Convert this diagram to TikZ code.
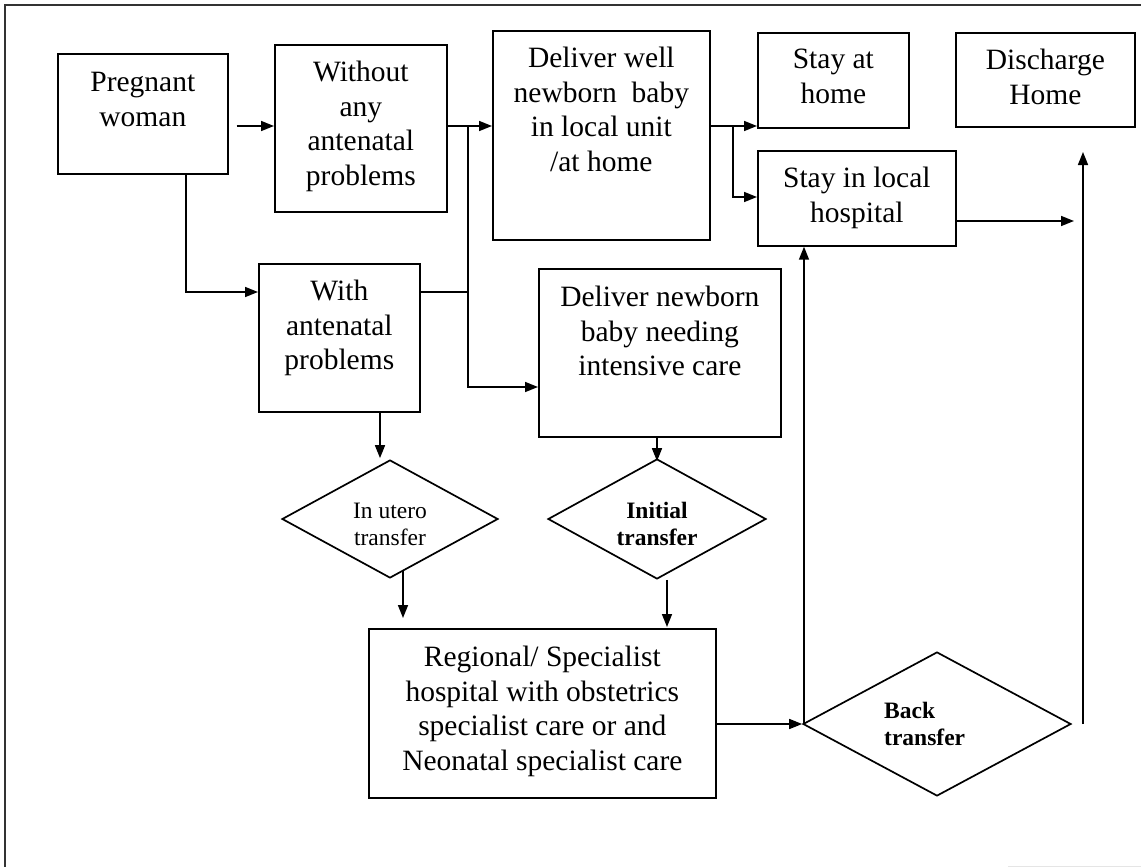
\documentclass[tikz,border=0pt]{standalone}
\usepackage{fontspec}
\setmainfont{Liberation Serif}
\usetikzlibrary{arrows.meta,calc,shapes.geometric}

\begin{document}
\begin{tikzpicture}[x=1pt,y=-1pt,
  box/.style={draw, line width=1.7pt, inner sep=0pt, anchor=north west},
  txt/.style={inner sep=0pt, anchor=north, align=center, font=\fontsize{29.5}{34.5}\selectfont},
  small/.style={inner sep=0pt, align=center, font=\fontsize{23.5}{27}\selectfont},
  smallb/.style={inner sep=0pt, font=\fontsize{23.5}{27}\selectfont\bfseries},
  dia/.style={draw, diamond, line width=1.7pt, inner sep=0pt},
  arr/.style={line width=1.6pt, -{Triangle[length=13pt,width=10pt]}},
  link/.style={line width=1.6pt}]

\useasboundingbox (0,0) rectangle (1141,867);

% page frame
\draw[line width=1.5pt, black!80] (1141,5) -- (5,5) -- (5,867);
\draw[line width=1pt, black!10] (1008,866) -- (1141,866);

% boxes
\node[box, minimum width=170pt, minimum height=120pt] (preg) at (57,53) {};
\node[box, minimum width=172pt, minimum height=167pt] (without) at (274,44) {};
\node[box, minimum width=217pt, minimum height=209pt] (well) at (492,30) {};
\node[box, minimum width=151pt, minimum height=95pt] (home) at (757,32) {};
\node[box, minimum width=179pt, minimum height=94pt] (disch) at (955,32) {};
\node[box, minimum width=198pt, minimum height=95pt] (localh) at (757,150) {};
\node[box, minimum width=161pt, minimum height=148pt] (with) at (258,263) {};
\node[box, minimum width=242pt, minimum height=168pt] (icu) at (538,268) {};
\node[box, minimum width=347pt, minimum height=169pt] (regional) at (368,628) {};

% box texts
\node[txt] (pregT) at ($(preg.north)+(0,19)$) {Pregnant\\woman};
\node[txt] (withoutT) at ($(without.north)+(0,17)$) {Without\\any\\antenatal\\problems};
\node[txt] (wellT) at ($(well.north)+(0,17)$) {Deliver well\\newborn~ baby\\in local unit\\/at home};
\node[txt] (homeT) at ($(home.north)+(0,17)$) {Stay at\\home};
\node[txt] (dischT) at ($(disch.north)+(0,17)$) {Discharge\\Home};
\node[txt] (localhT) at ($(localh.north)+(0,17)$) {Stay in local\\hospital};
\node[txt] (withT) at ($(with.north)+(0,17)$) {With\\antenatal\\problems};
\node[txt] (icuT) at ($(icu.north)+(0,18)$) {Deliver newborn\\baby needing\\intensive care};
\node[txt] (regionalT) at ($(regional.north)+(0,18)$) {Regional/ Specialist\\hospital with obstetrics\\specialist care or and\\Neonatal specialist care};

% decision diamonds
\node[dia, minimum width=216pt, minimum height=118pt] (utero) at (390,519) {};
\node[dia, minimum width=218pt, minimum height=120pt] (initial) at (657,519) {};
\node[dia, minimum width=268pt, minimum height=144pt] (back) at (937,724) {};
\node[small] (uteroT) at (390,524) {In utero\\transfer};
\node[small, font=\fontsize{23.5}{27}\selectfont\bfseries] (initialT) at (657,524) {Initial\\transfer};
\node[smallb, align=left, anchor=west] (backT) at (884,724) {Back\\transfer};

% junction points and free ends
\coordinate (tr) at (468,126);
\coordinate (tr2) at (468,387);
\coordinate (pj) at (186,292);
\coordinate (br) at (733,126);
\coordinate (br2) at (733,197);
\coordinate (bx) at (804,724);
\coordinate (rt) at (1083,152);
\coordinate (lt) at (1074,221);

% connectors
\draw[arr] ($(preg.east |- tr)+(8,0)$) -- (without.west |- tr);
\draw[arr] (preg.south -| pj) -- (pj) -- (with.west |- pj);
\draw[arr] (without.east |- tr) -- (well.west |- tr);
\draw[link] (with.east |- pj) -- (pj -| tr);
\draw[arr] (tr) -- (tr2) -- (icu.west |- tr2);
\draw[arr] (well.east |- br) -- (home.west |- br);
\draw[arr] (br) -- (br2) -- (localh.west |- br2);
\draw[arr] (localh.east |- lt) -- (lt);
\draw[arr] ($(with.south -| utero.north)+(-10,0)$) -- ($(utero.north)+(-10,-1)$);
\draw[arr] (icu.south -| initial.north) -- ($(initial.north)+(0,3)$);
\draw[arr] ($(utero.south)+(13,-9)$) -- ($(utero.south |- regional.north)+(13,-10)$);
\draw[arr] ($(initial.south)+(10,0)$) -- ($(initial.south |- regional.north)+(10,-1)$);
\draw[arr] (regional.east |- back.west) -- (back.west);
\draw[arr] (bx |- back.west) -- (bx |- localh.south);
\draw[arr] (rt |- back.east) -- (rt);

\end{tikzpicture}
\end{document}
